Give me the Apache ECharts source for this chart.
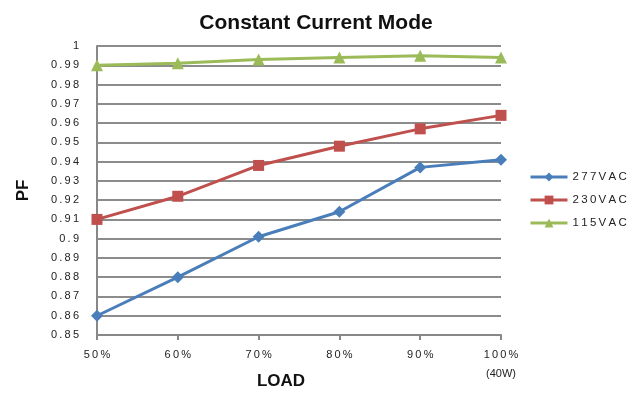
<!DOCTYPE html>
<html>
<head>
<meta charset="utf-8">
<script src="https://cdn.jsdelivr.net/npm/echarts@6/dist/echarts.min.js"></script>
<style>
  html, body { margin: 0; padding: 0; background: #fff; }
  #chart { width: 643px; height: 398px; }
</style>
</head>
<body>
<div id="chart"></div>
<script>
// 横轴负载
var loads = ['50%', '60%', '70%', '80%', '90%', '100%\n(40W)'];
// 各输入电压下的功率因数
var pf277 = [0.860, 0.880, 0.901, 0.914, 0.937, 0.941];
var pf230 = [0.910, 0.922, 0.938, 0.948, 0.957, 0.964];
var pf115 = [0.990, 0.991, 0.993, 0.994, 0.995, 0.994];
var seriesNames = ['277VAC', '230VAC', '115VAC'];

// 字间距 (仿原图的宽字距)
function spread(s) {
  return String(s).split('').join('\u2009');
}

var chart = echarts.init(document.getElementById('chart'));

chart.setOption({
  animation: false,
  title: {
    text: 'Constant Current Mode',
    left: 311,
    top: 8,
    textAlign: 'center',
    textStyle: {
      fontFamily: 'Liberation Sans, Arial',
      fontWeight: 'bold',
      fontSize: 21,
      color: '#111'
    }
  },
  grid: {
    left: 97,
    right: 142,
    top: 46,
    bottom: 63,
    outerBoundsMode: 'none'
  },
  legend: {
    orient: 'vertical',
    left: 524,
    top: 166,
    itemWidth: 37,
    itemHeight: 11,
    itemGap: 11,
    data: seriesNames,
    lineStyle: { width: 3 },
    formatter: function (name) { return spread(name); },
    textStyle: {
      fontFamily: 'Liberation Sans, Arial',
      fontSize: 11.5,
      color: '#222'
    }
  },
  xAxis: {
    type: 'category',
    data: loads,
    boundaryGap: false,
    name: 'LOAD',
    nameLocation: 'middle',
    nameGap: 38,
    nameMoveOverlap: false,
    nameTextStyle: {
      fontFamily: 'Liberation Sans, Arial',
      fontWeight: 'bold',
      fontSize: 17,
      color: '#111',
      padding: [0, 36, 0, 0]
    },
    axisLine: { lineStyle: { color: '#888', width: 2 } },
    axisTick: { show: true, length: 5, lineStyle: { color: '#888', width: 2 } },
    axisLabel: {
      margin: 10,
      fontFamily: 'Liberation Sans, Arial',
      fontSize: 11,
      color: '#222',
      lineHeight: 19,
      formatter: function (v) {
        var parts = v.split('\n');
        return parts.length > 1 ? spread(parts[0]) + '\n' + parts[1] : spread(v);
      }
    },
    splitLine: { show: false }
  },
  yAxis: {
    type: 'value',
    min: 0.85,
    max: 1,
    interval: 0.01,
    name: 'PF',
    nameLocation: 'middle',
    nameGap: 65,
    nameMoveOverlap: false,
    nameRotate: 90,
    nameTextStyle: {
      fontFamily: 'Liberation Sans, Arial',
      fontWeight: 'bold',
      fontSize: 17,
      color: '#111'
    },
    axisLine: { show: true, lineStyle: { color: '#888', width: 2 } },
    axisTick: { show: false },
    axisLabel: {
      margin: 18,
      fontFamily: 'Liberation Sans, Arial',
      fontSize: 11,
      color: '#222',
      formatter: function (v) { return spread(parseFloat(v.toFixed(2))); }
    },
    splitLine: { lineStyle: { color: '#8c8c8c', width: 2 } }
  },
  series: [
    {
      name: seriesNames[0],
      type: 'line',
      data: pf277,
      symbol: 'diamond',
      symbolSize: 12,
      lineStyle: { color: '#4a7ebb', width: 3 },
      itemStyle: { color: '#4a7ebb' }
    },
    {
      name: seriesNames[1],
      type: 'line',
      data: pf230,
      symbol: 'rect',
      symbolSize: 11,
      lineStyle: { color: '#c0504d', width: 3 },
      itemStyle: { color: '#c0504d' }
    },
    {
      name: seriesNames[2],
      type: 'line',
      data: pf115,
      symbol: 'triangle',
      symbolSize: 12,
      lineStyle: { color: '#9bbb59', width: 3 },
      itemStyle: { color: '#9bbb59' }
    }
  ]
});
</script>
</body>
</html>
